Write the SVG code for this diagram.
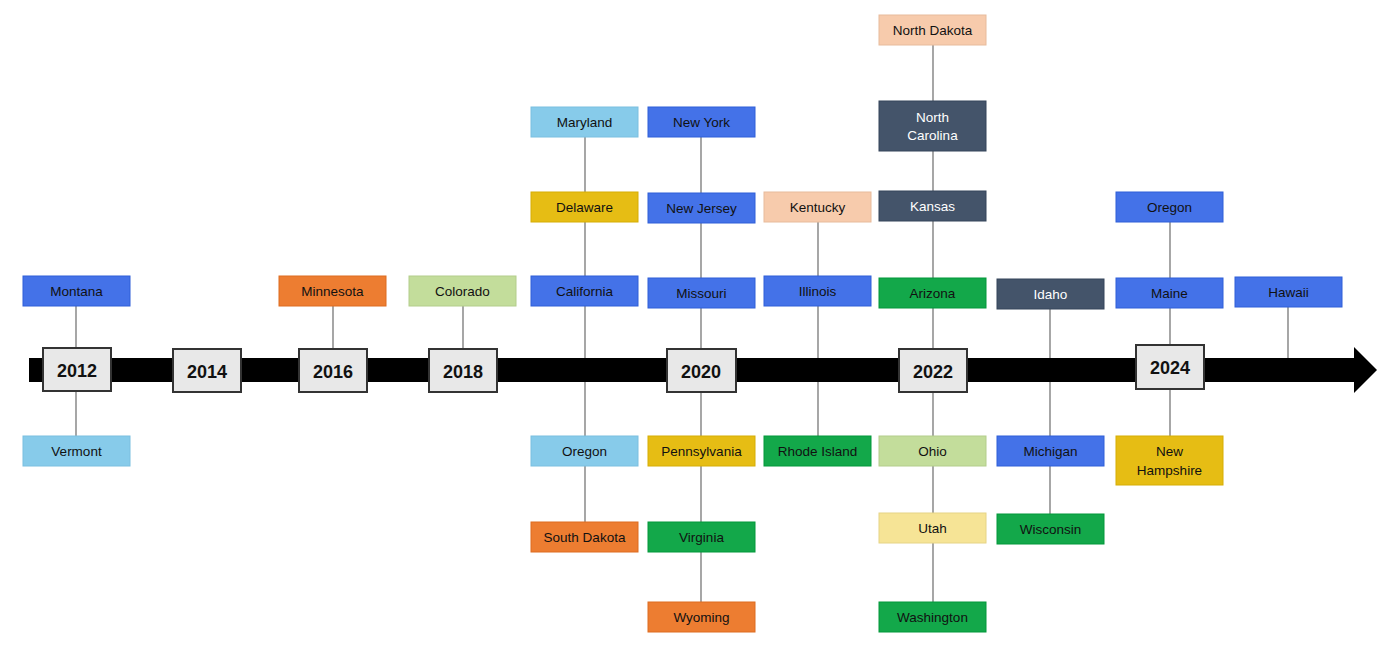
<svg xmlns="http://www.w3.org/2000/svg" width="1400" height="645" viewBox="0 0 1400 645">
<style>
.n{stroke-width:1}
.t{font-family:"Liberation Sans",Arial,sans-serif;font-size:13.5px;text-anchor:middle;fill:#111}
.w{fill:#fff}
.y{fill:#e8e8e8;stroke:#333;stroke-width:2}
.yt{font-family:"Liberation Sans",Arial,sans-serif;font-size:18px;font-weight:bold;text-anchor:middle;fill:#111}
.b{fill:#4472e8;stroke:#2f5fd8}.lb{fill:#87cbea;stroke:#7abfe0}.o{fill:#ed7d31;stroke:#dd6d21}.lg{fill:#c3dd9b;stroke:#b3cd8b}
.ye{fill:#e6bd14;stroke:#d6ad04}.p{fill:#f7cbac;stroke:#e7bb9c}.d{fill:#44546a;stroke:#34445a}.g{fill:#13a84a;stroke:#03983a}.ly{fill:#f6e496;stroke:#e6d486}
.c line{stroke:#777;stroke-width:1.3}
</style>
<rect width="1400" height="645" fill="#fff"/>
<g id="connectors" class="c">
<line x1="76" y1="306" x2="76" y2="436"/>
<line x1="333" y1="306" x2="333" y2="348"/>
<line x1="463" y1="306" x2="463" y2="348"/>
<line x1="585" y1="137" x2="585" y2="522"/>
<line x1="701" y1="137" x2="701" y2="602"/>
<line x1="818" y1="222" x2="818" y2="436"/>
<line x1="933" y1="45" x2="933" y2="602"/>
<line x1="1050" y1="309" x2="1050" y2="514"/>
<line x1="1170" y1="222" x2="1170" y2="436"/>
<line x1="1288" y1="307" x2="1288" y2="358"/>
</g>
<g id="timeline"><polygon points="29,358 1354,358 1354,347 1377,370 1354,393 1354,382 29,382" fill="#000"/></g>
<g id="y2012"><rect class="y" x="43" y="348" width="68" height="43"/><text class="yt" x="77" y="377">2012</text></g>
<g id="y2014"><rect class="y" x="173" y="349" width="68" height="43"/><text class="yt" x="207" y="378">2014</text></g>
<g id="y2016"><rect class="y" x="299" y="349" width="68" height="43"/><text class="yt" x="333" y="378">2016</text></g>
<g id="y2018"><rect class="y" x="429" y="349" width="68" height="43"/><text class="yt" x="463" y="378">2018</text></g>
<g id="y2020"><rect class="y" x="667" y="349" width="69" height="43"/><text class="yt" x="701" y="378">2020</text></g>
<g id="y2022"><rect class="y" x="899" y="349" width="68" height="43"/><text class="yt" x="933" y="378">2022</text></g>
<g id="y2024"><rect class="y" x="1136" y="345" width="68" height="44"/><text class="yt" x="1170" y="374">2024</text></g>
<g id="montana"><rect class="b" x="23" y="276" width="107" height="30"/><text class="t" x="76.5" y="296">Montana</text></g>
<g id="vermont"><rect class="lb" x="23" y="436" width="107" height="30"/><text class="t" x="76.5" y="456">Vermont</text></g>
<g id="minnesota"><rect class="o" x="279" y="276" width="107" height="30"/><text class="t" x="332.5" y="296">Minnesota</text></g>
<g id="colorado"><rect class="lg" x="409" y="276" width="107" height="30"/><text class="t" x="462.5" y="296">Colorado</text></g>
<g id="maryland"><rect class="lb" x="531" y="107" width="107" height="30"/><text class="t" x="584.5" y="127">Maryland</text></g>
<g id="delaware"><rect class="ye" x="531" y="192" width="107" height="30"/><text class="t" x="584.5" y="212">Delaware</text></g>
<g id="california"><rect class="b" x="531" y="276" width="107" height="30"/><text class="t" x="584.5" y="296">California</text></g>
<g id="oregon1"><rect class="lb" x="531" y="436" width="107" height="30"/><text class="t" x="584.5" y="456">Oregon</text></g>
<g id="southdakota"><rect class="o" x="531" y="522" width="107" height="30"/><text class="t" x="584.5" y="542">South Dakota</text></g>
<g id="newyork"><rect class="b" x="648" y="107" width="107" height="30"/><text class="t" x="701.5" y="127">New York</text></g>
<g id="newjersey"><rect class="b" x="648" y="193" width="107" height="30"/><text class="t" x="701.5" y="213">New Jersey</text></g>
<g id="missouri"><rect class="b" x="648" y="278" width="107" height="30"/><text class="t" x="701.5" y="298">Missouri</text></g>
<g id="pennsylvania"><rect class="ye" x="648" y="436" width="107" height="30"/><text class="t" x="701.5" y="456">Pennsylvania</text></g>
<g id="virginia"><rect class="g" x="648" y="522" width="107" height="30"/><text class="t" x="701.5" y="542">Virginia</text></g>
<g id="wyoming"><rect class="o" x="648" y="602" width="107" height="30"/><text class="t" x="701.5" y="622">Wyoming</text></g>
<g id="kentucky"><rect class="p" x="764" y="192" width="107" height="30"/><text class="t" x="817.5" y="212">Kentucky</text></g>
<g id="illinois"><rect class="b" x="764" y="276" width="107" height="30"/><text class="t" x="817.5" y="296">Illinois</text></g>
<g id="rhodeisland"><rect class="g" x="764" y="436" width="107" height="30"/><text class="t" x="817.5" y="456">Rhode Island</text></g>
<g id="northdakota"><rect class="p" x="879" y="15" width="107" height="30"/><text class="t" x="932.5" y="35">North Dakota</text></g>
<g id="northcarolina"><rect class="d" x="879" y="101" width="107" height="50"/><text class="t w" x="932.5" y="122">North</text><text class="t w" x="932.5" y="140">Carolina</text></g>
<g id="kansas"><rect class="d" x="879" y="191" width="107" height="30"/><text class="t w" x="932.5" y="211">Kansas</text></g>
<g id="arizona"><rect class="g" x="879" y="278" width="107" height="30"/><text class="t" x="932.5" y="298">Arizona</text></g>
<g id="ohio"><rect class="lg" x="879" y="436" width="107" height="30"/><text class="t" x="932.5" y="456">Ohio</text></g>
<g id="utah"><rect class="ly" x="879" y="513" width="107" height="30"/><text class="t" x="932.5" y="533">Utah</text></g>
<g id="washington"><rect class="g" x="879" y="602" width="107" height="30"/><text class="t" x="932.5" y="622">Washington</text></g>
<g id="idaho"><rect class="d" x="997" y="279" width="107" height="30"/><text class="t w" x="1050.5" y="299">Idaho</text></g>
<g id="michigan"><rect class="b" x="997" y="436" width="107" height="30"/><text class="t" x="1050.5" y="456">Michigan</text></g>
<g id="wisconsin"><rect class="g" x="997" y="514" width="107" height="30"/><text class="t" x="1050.5" y="534">Wisconsin</text></g>
<g id="oregon2"><rect class="b" x="1116" y="192" width="107" height="30"/><text class="t" x="1169.5" y="212">Oregon</text></g>
<g id="maine"><rect class="b" x="1116" y="278" width="107" height="30"/><text class="t" x="1169.5" y="298">Maine</text></g>
<g id="newhampshire"><rect class="ye" x="1116" y="436" width="107" height="49"/><text class="t" x="1169.5" y="456">New</text><text class="t" x="1169.5" y="475">Hampshire</text></g>
<g id="hawaii"><rect class="b" x="1235" y="277" width="107" height="30"/><text class="t" x="1288.5" y="297">Hawaii</text></g>
</svg>
